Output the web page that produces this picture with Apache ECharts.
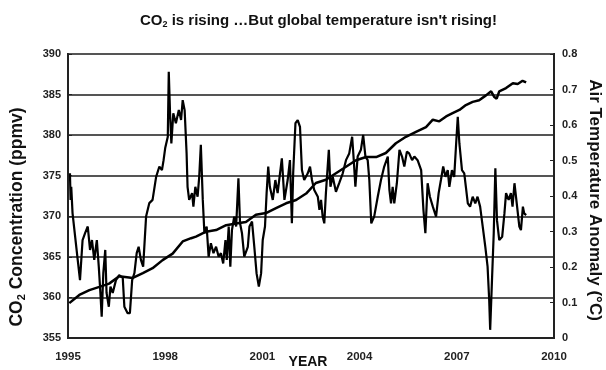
<!DOCTYPE html>
<html>
<head>
<meta charset="utf-8">
<script src="https://cdn.jsdelivr.net/npm/echarts@6/dist/echarts.min.js"></script>
<style>
  html, body { margin: 0; padding: 0; background: #fff; }
  #chart { width: 606px; height: 370px; }
</style>
</head>
<body>
<div id="chart"></div>
<script>
// Atmospheric CO2 (ppmv), left axis
const co2Years = [1995.04, 1995.35, 1995.66, 1995.97, 1996.27, 1996.58, 1997.00, 1997.31, 1997.61,
  1997.92, 1998.23, 1998.54, 1998.80, 1998.95, 1999.26, 1999.57, 1999.88, 2000.19, 2000.49,
  2000.80, 2001.11, 2001.42, 2001.73, 2002.04, 2002.35, 2002.65, 2002.96, 2003.27, 2003.58,
  2003.89, 2004.20, 2004.51, 2004.81, 2005.12, 2005.43, 2005.74, 2006.05, 2006.26, 2006.46,
  2006.67, 2006.87, 2007.08, 2007.28, 2007.49, 2007.69, 2007.90, 2008.06, 2008.16, 2008.23,
  2008.31, 2008.52, 2008.73, 2008.88, 2009.03, 2009.14];
const co2Values = [359.3, 360.3, 360.9, 361.3, 361.7, 362.6, 362.4, 363.0, 363.6,
  364.6, 365.4, 366.9, 367.3, 367.5, 368.1, 368.3, 368.9, 369.1, 369.3,
  370.2, 370.4, 371.0, 371.6, 372.0, 372.8, 374.1, 374.5, 375.3, 376.1,
  376.9, 377.3, 377.3, 377.8, 379.0, 379.8, 380.4, 381.0, 381.9, 381.7,
  382.3, 382.7, 383.1, 383.7, 384.1, 384.3, 384.9, 385.4, 384.7, 384.5,
  385.4, 385.8, 386.4, 386.3, 386.7, 386.5];

// Air temperature anomaly (°C), right axis
const tempYears = [1995.06, 1995.08, 1995.10, 1995.14, 1995.30, 1995.37, 1995.45, 1995.53, 1995.61,
  1995.68, 1995.74, 1995.81, 1995.89, 1995.95, 1996.00, 1996.04, 1996.09, 1996.15, 1996.19,
  1996.26, 1996.31, 1996.38, 1996.48, 1996.58, 1996.69, 1996.74, 1996.84, 1996.91, 1996.98,
  1997.05, 1997.12, 1997.18, 1997.25, 1997.32, 1997.41, 1997.51, 1997.61, 1997.72, 1997.82,
  1997.90, 1997.95, 1998.00, 1998.08, 1998.11, 1998.15, 1998.19, 1998.25, 1998.33, 1998.42,
  1998.49, 1998.54, 1998.60, 1998.66, 1998.69, 1998.74, 1998.83, 1998.87, 1998.93, 1999.00,
  1999.05, 1999.10, 1999.16, 1999.21, 1999.28, 1999.34, 1999.41, 1999.49, 1999.57, 1999.65,
  1999.72, 1999.79, 1999.86, 1999.90, 1999.96, 2000.01, 2000.06, 2000.13, 2000.19, 2000.26,
  2000.31, 2000.37, 2000.44, 2000.55, 2000.60, 2000.68, 2000.75, 2000.82, 2000.89, 2000.96,
  2001.01, 2001.08, 2001.13, 2001.18, 2001.23, 2001.32, 2001.40, 2001.47, 2001.60, 2001.68,
  2001.78, 2001.85, 2001.91, 2001.95, 2002.02, 2002.09, 2002.16, 2002.22, 2002.29, 2002.40,
  2002.47, 2002.53, 2002.60, 2002.71, 2002.76, 2002.81, 2002.86, 2002.91, 2002.96, 2003.05,
  2003.10, 2003.17, 2003.27, 2003.37, 2003.48, 2003.58, 2003.68, 2003.77, 2003.82, 2003.87,
  2003.94, 2004.04, 2004.11, 2004.18, 2004.25, 2004.30, 2004.36, 2004.45, 2004.56, 2004.66,
  2004.76, 2004.87, 2004.92, 2004.97, 2005.02, 2005.07, 2005.15, 2005.23, 2005.31, 2005.38,
  2005.46, 2005.53, 2005.62, 2005.69, 2005.79, 2005.90, 2005.97, 2006.03, 2006.10, 2006.17,
  2006.26, 2006.36, 2006.44, 2006.51, 2006.58, 2006.65, 2006.72, 2006.77, 2006.85, 2006.92,
  2006.98, 2007.03, 2007.08, 2007.16, 2007.23, 2007.28, 2007.34, 2007.41, 2007.49, 2007.57,
  2007.64, 2007.72, 2007.80, 2007.88, 2007.95, 2008.00, 2008.03, 2008.09, 2008.14, 2008.19,
  2008.24, 2008.31, 2008.40, 2008.47, 2008.52, 2008.60, 2008.67, 2008.72, 2008.78, 2008.85,
  2008.93, 2008.98, 2009.04, 2009.08, 2009.14];
const tempValues = [0.464, 0.389, 0.426, 0.352, 0.220, 0.163, 0.276, 0.296, 0.314,
  0.248, 0.276, 0.220, 0.276, 0.201, 0.127, 0.060, 0.183, 0.248, 0.127,
  0.088, 0.145, 0.127, 0.163, 0.177, 0.169, 0.088, 0.070, 0.070, 0.163,
  0.183, 0.239, 0.257, 0.220, 0.201, 0.342, 0.380, 0.389, 0.454, 0.483,
  0.473, 0.501, 0.535, 0.567, 0.750, 0.633, 0.548, 0.633, 0.605, 0.642,
  0.614, 0.670, 0.642, 0.521, 0.426, 0.389, 0.408, 0.370, 0.426, 0.398,
  0.454, 0.544, 0.389, 0.295, 0.314, 0.229, 0.267, 0.239, 0.257, 0.229,
  0.239, 0.210, 0.276, 0.220, 0.314, 0.201, 0.304, 0.342, 0.314, 0.450,
  0.323, 0.295, 0.229, 0.257, 0.314, 0.328, 0.257, 0.182, 0.145, 0.182,
  0.276, 0.314, 0.408, 0.483, 0.426, 0.389, 0.445, 0.408, 0.506, 0.389,
  0.445, 0.501, 0.323, 0.464, 0.605, 0.614, 0.595, 0.473, 0.445, 0.464,
  0.483, 0.445, 0.417, 0.398, 0.361, 0.389, 0.342, 0.323, 0.408, 0.530,
  0.426, 0.454, 0.412, 0.436, 0.464, 0.501, 0.520, 0.567, 0.501, 0.426,
  0.511, 0.530, 0.572, 0.511, 0.501, 0.445, 0.323, 0.342, 0.398, 0.445,
  0.483, 0.511, 0.417, 0.379, 0.426, 0.379, 0.436, 0.530, 0.511, 0.483,
  0.525, 0.520, 0.501, 0.511, 0.501, 0.473, 0.361, 0.295, 0.436, 0.398,
  0.370, 0.342, 0.408, 0.445, 0.483, 0.454, 0.473, 0.426, 0.473, 0.454,
  0.548, 0.623, 0.548, 0.473, 0.464, 0.426, 0.379, 0.370, 0.398, 0.379,
  0.398, 0.370, 0.314, 0.257, 0.201, 0.107, 0.023, 0.173, 0.295, 0.478,
  0.332, 0.276, 0.285, 0.351, 0.408, 0.389, 0.408, 0.370, 0.436, 0.379,
  0.314, 0.304, 0.370, 0.351, 0.346];

const yearTicks = [1995, 1998, 2001, 2004, 2007, 2010];

const co2Data = co2Years.map((y, i) => [y, co2Values[i]]);
const tempData = tempYears.map((y, i) => [y, tempValues[i]]);

const FONT = "'Liberation Sans', Arial, sans-serif";

const chart = echarts.init(document.getElementById('chart'), null, { renderer: 'canvas' });

chart.setOption({
  animation: false,
  backgroundColor: '#ffffff',
  title: {
    text: '{a|CO}{s|2}{a| is rising …But global temperature isn\'t rising!}',
    left: 135,
    top: 7,
    textStyle: {
      rich: {
        a: { fontFamily: FONT, fontWeight: 'bold', fontSize: 15, color: '#111' },
        s: { fontFamily: FONT, fontWeight: 'bold', fontSize: 9, color: '#111', padding: [8, 0, 0, 0] }
      }
    }
  },
  grid: {
    left: 68, right: 52, top: 54, bottom: 32,
    show: true, borderColor: '#222', borderWidth: 2, backgroundColor: 'transparent'
  },
  xAxis: {
    type: 'value',
    min: 1995, max: 2010, interval: 3,
    axisLine: { show: true, lineStyle: { color: '#222', width: 2 } },
    axisTick: { show: false },
    splitLine: { show: false },
    axisLabel: {
      margin: 13,
      fontFamily: FONT, fontSize: 11.5, fontWeight: 'bold', color: '#222',
      formatter: v => (yearTicks.indexOf(v) >= 0 ? String(v) : '')
    }
  },
  yAxis: [
    {
      type: 'value',
      min: 355, max: 390, interval: 5,
      axisLine: { show: true, lineStyle: { color: '#222', width: 2 } },
      axisTick: { show: true, inside: true, length: 4, lineStyle: { color: '#222' } },
      splitLine: { show: true, lineStyle: { color: '#555', width: 2 } },
      axisLabel: { margin: 7, fontFamily: FONT, fontSize: 11, fontWeight: 'bold', color: '#222' }
    },
    {
      type: 'value',
      min: 0, max: 0.8, interval: 0.1,
      axisLine: { show: true, lineStyle: { color: '#222', width: 2 } },
      axisTick: { show: true, inside: true, length: 4, lineStyle: { color: '#222' } },
      splitLine: { show: false },
      axisLabel: {
        margin: 8, fontFamily: FONT, fontSize: 11, fontWeight: 'bold', color: '#222',
        formatter: v => (v === 0 ? '0' : v.toFixed(1))
      }
    }
  ],
  series: [
    {
      name: 'CO2',
      type: 'line',
      yAxisIndex: 0,
      data: co2Data,
      symbol: 'none',
      lineStyle: { color: '#000', width: 2.5 },
      z: 3
    },
    {
      name: 'Temperature',
      type: 'line',
      yAxisIndex: 1,
      data: tempData,
      symbol: 'none',
      lineStyle: { color: '#000', width: 2.2 },
      z: 4
    }
  ],
  graphic: [
    {
      type: 'text',
      x: 17, y: 217,
      rotation: Math.PI / 2,
      style: {
        text: '{a|CO}{s|2}{a| Concentration (ppmv)}',
        align: 'center', verticalAlign: 'middle',
        rich: {
          a: { fontFamily: FONT, fontWeight: 'bold', fontSize: 17.5, fill: '#111' },
          s: { fontFamily: FONT, fontWeight: 'bold', fontSize: 11, fill: '#111', padding: [9, 0, 0, 0] }
        }
      }
    },
    {
      type: 'text',
      x: 595, y: 200,
      rotation: -Math.PI / 2,
      style: {
        text: 'Air Temperature Anomaly (°C)',
        align: 'center', verticalAlign: 'middle',
        fontFamily: FONT, fontWeight: 'bold', fontSize: 17, fill: '#111'
      }
    },
    {
      type: 'text',
      x: 308, y: 362,
      style: {
        text: 'YEAR',
        align: 'center', verticalAlign: 'middle',
        fontFamily: FONT, fontWeight: 'bold', fontSize: 14, fill: '#111'
      }
    }
  ]
});
</script>
</body>
</html>
